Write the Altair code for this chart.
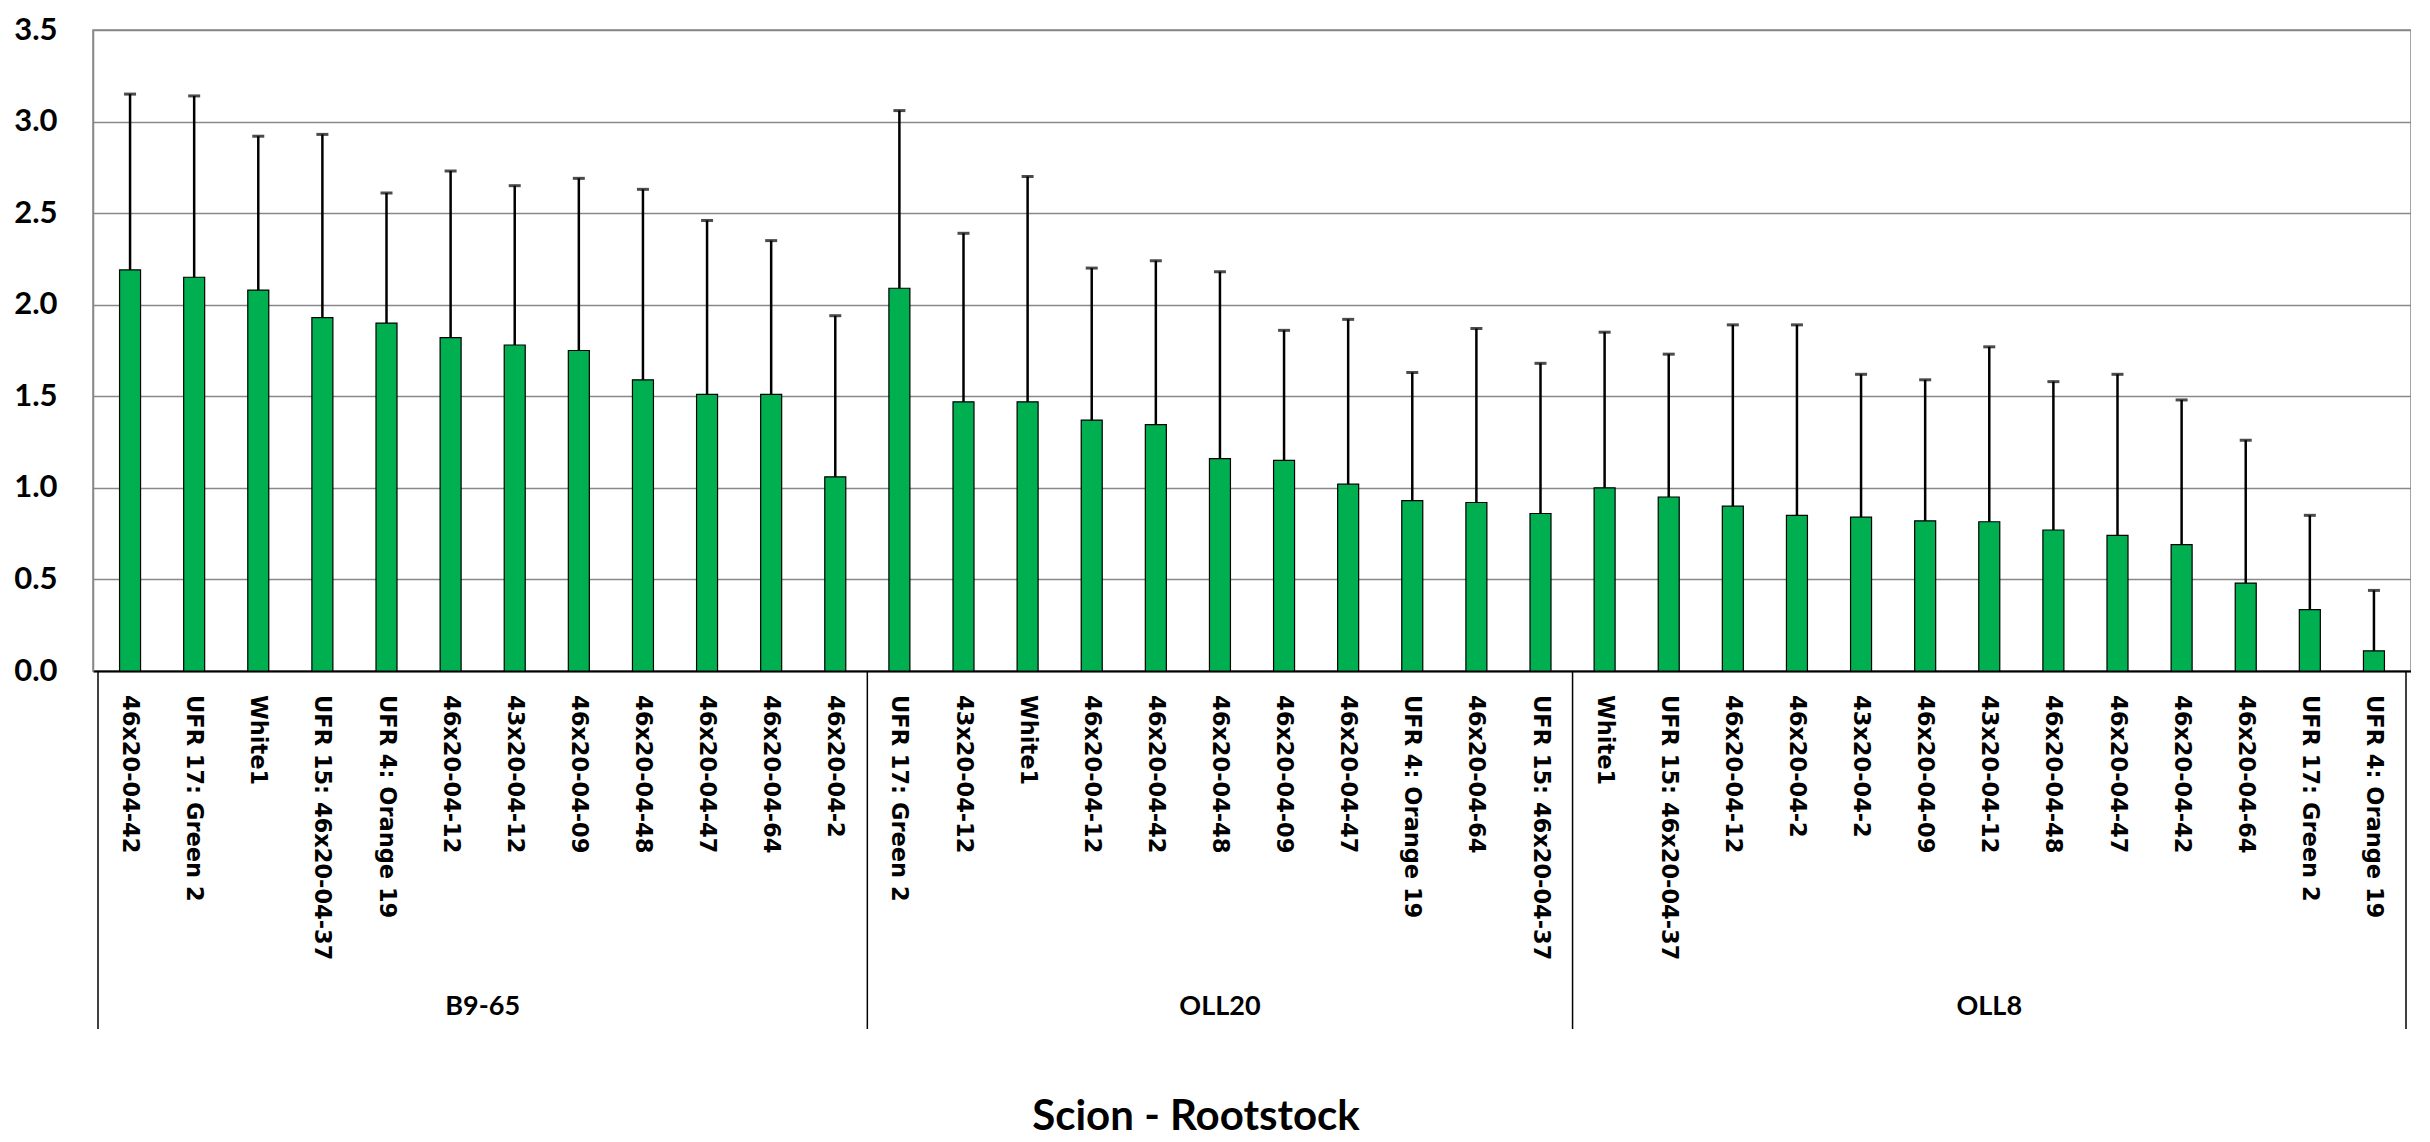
import altair as alt
import pandas as pd

# ---- data ----
group_names = ["B9-65", "OLL20", "OLL8"]

b965_names = ["46x20-04-42", "UFR 17: Green 2", "White1", "UFR 15: 46x20-04-37",
              "UFR 4: Orange 19", "46x20-04-12", "43x20-04-12", "46x20-04-09",
              "46x20-04-48", "46x20-04-47", "46x20-04-64", "46x20-04-2"]
b965_means = [2.19, 2.15, 2.08, 1.93, 1.90, 1.82, 1.78, 1.75, 1.59, 1.51, 1.51, 1.06]
b965_sd = [0.96, 0.99, 0.84, 1.00, 0.71, 0.91, 0.87, 0.94, 1.04, 0.95, 0.84, 0.88]

oll20_names = ["UFR 17: Green 2", "43x20-04-12", "White1", "46x20-04-12", "46x20-04-42",
               "46x20-04-48", "46x20-04-09", "46x20-04-47", "UFR 4: Orange 19",
               "46x20-04-64", "UFR 15: 46x20-04-37"]
oll20_means = [2.09, 1.47, 1.47, 1.37, 1.345, 1.16, 1.15, 1.02, 0.93, 0.92, 0.86]
oll20_sd = [0.97, 0.92, 1.23, 0.83, 0.895, 1.02, 0.71, 0.90, 0.70, 0.95, 0.82]

oll8_names = ["White1", "UFR 15: 46x20-04-37", "46x20-04-12", "46x20-04-2", "43x20-04-2",
              "46x20-04-09", "43x20-04-12", "46x20-04-48", "46x20-04-47", "46x20-04-42",
              "46x20-04-64", "UFR 17: Green 2", "UFR 4: Orange 19"]
oll8_means = [1.00, 0.95, 0.90, 0.85, 0.84, 0.82, 0.815, 0.77, 0.74, 0.69, 0.48, 0.335, 0.11]
oll8_sd = [0.85, 0.78, 0.99, 1.04, 0.78, 0.77, 0.955, 0.81, 0.88, 0.79, 0.78, 0.515, 0.33]

y_ticks = [0, 0.5, 1.0, 1.5, 2.0, 2.5, 3.0, 3.5]
x_title = "Scion - Rootstock"

# ---- build tables ----
groups = [(group_names[0], b965_names, b965_means, b965_sd),
          (group_names[1], oll20_names, oll20_means, oll20_sd),
          (group_names[2], oll8_names, oll8_means, oll8_sd)]
rows, grows, bounds = [], [], [0]
i = 0
for g, names, means, sds in groups:
    start = i
    for n, m, s in zip(names, means, sds):
        rows.append({"group": g, "label": n, "pos": i + 0.5, "mean": m, "upper": m + s})
        i += 1
    grows.append({"group": g, "center": (start + i) / 2})
    bounds.append(i)
df = pd.DataFrame(rows)
gdf = pd.DataFrame(grows)
bdf = pd.DataFrame({"b": bounds})
N = i

W, H = 2318, 641
xs = alt.Scale(domain=[0, N], nice=False, zero=False)
ys = alt.Scale(domain=[0, 3.5], nice=False)

base = alt.Chart(df)

bars = base.mark_bar(size=21, color="#00B050", stroke="black", strokeWidth=1.2).encode(
    x=alt.X("pos:Q", scale=xs,
            axis=alt.Axis(title=None, labels=False, ticks=False, grid=False,
                          domain=True, domainColor="black", domainWidth=2)),
    y=alt.Y("mean:Q", scale=ys,
            axis=alt.Axis(values=y_ticks, format=".1f", title=None, ticks=False,
                          tickSize=0, labelPadding=36, labelFont="Lato",
                          labelFontSize=31, labelFontWeight="bold", labelColor="black",
                          grid=True, gridColor="#888888", gridWidth=1.5,
                          domainColor="#888888", domainWidth=1.5)),
)

err = base.mark_rule(color="black", strokeWidth=2.5).encode(
    x=alt.X("pos:Q", scale=xs), y=alt.Y("mean:Q", scale=ys), y2="upper:Q")

caps = base.mark_tick(color="black", orient="horizontal", size=12, thickness=3).encode(
    x=alt.X("pos:Q", scale=xs), y=alt.Y("upper:Q", scale=ys))

labels = base.mark_text(angle=90, align="left", baseline="middle", font="DejaVu Sans",
                        fontWeight="bold", fontSize=22.5, color="black").encode(
    x=alt.X("pos:Q", scale=xs), y=alt.value(H + 24), text="label:N")

glabels = alt.Chart(gdf).mark_text(font="Lato", fontWeight="bold", fontSize=27,
                                   color="black", baseline="middle").encode(
    x=alt.X("center:Q", scale=xs), y=alt.value(H + 336), text="group:N")

seps = alt.Chart(bdf).mark_rule(color="black", strokeWidth=1.5).encode(
    x=alt.X("b:Q", scale=xs), y=alt.value(H), y2=alt.value(H + 358))

title = alt.Chart(pd.DataFrame({"t": [x_title]})).mark_text(
    font="Lato", fontWeight="bold", fontSize=42, color="black", baseline="middle").encode(
    x=alt.value(1103), y=alt.value(H + 446), text="t:N")

chart = alt.layer(bars, err, caps, seps, labels, glabels, title).properties(
    width=W, height=H, padding={"left": 5, "top": 6, "right": 0, "bottom": 0}
).configure_view(stroke="#888888", strokeWidth=1.5)

chart.save("out.html", embed_options={"renderer": "svg", "actions": False})
